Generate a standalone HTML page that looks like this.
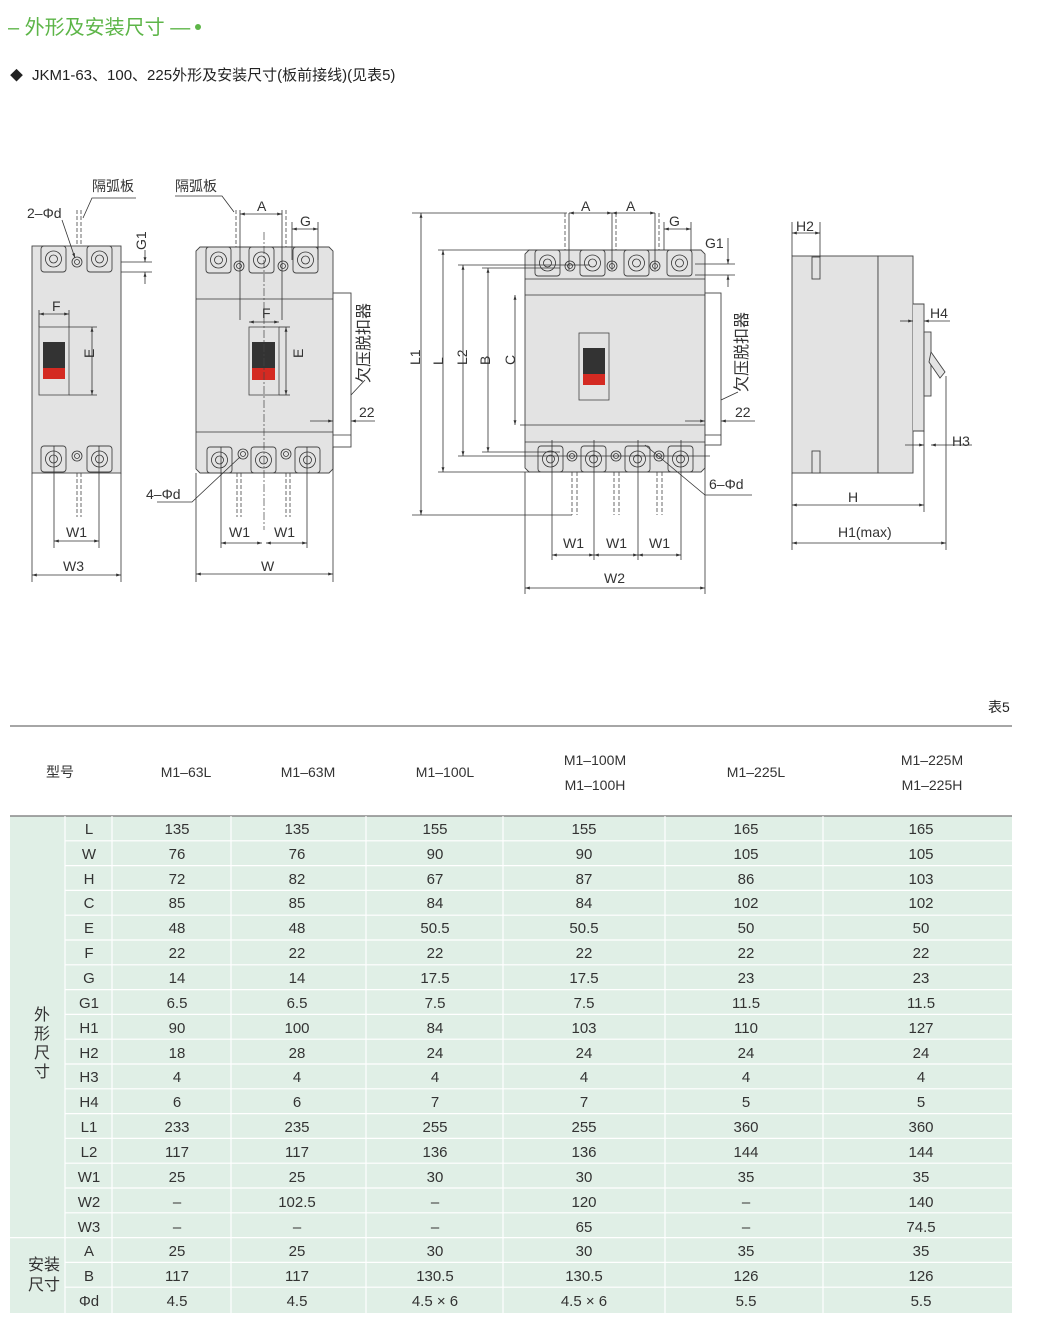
<!DOCTYPE html>
<html><head><meta charset="utf-8"><style>
html,body{margin:0;padding:0;background:#fff;}
svg{display:block;font-family:"Liberation Sans","Noto Sans CJK SC",sans-serif;}
.d{stroke:#333;stroke-width:.8;fill:none}
.b{fill:#e3e3e3;stroke:#444;stroke-width:.9}
.t{fill:#e3e3e3;stroke:#444;stroke-width:.9}
.dash{stroke:#444;stroke-width:.8;stroke-dasharray:4 2;fill:none}
.lab{font-size:14px;fill:#333}
.tb{font-size:15px;fill:#333;text-anchor:middle}
.th{font-size:14px;fill:#333;text-anchor:middle}
</style></head><body>
<svg width="1039" height="1329" viewBox="0 0 1039 1329">
<defs>
<marker id="a" viewBox="0 0 10 10" refX="10" refY="5" markerWidth="6" markerHeight="6" orient="auto-start-reverse"><path d="M0,2 L10,5 L0,8z" fill="#333"/></marker>
<g id="term"><rect x="0" y="0" width="25" height="26" rx="3" class="t"/><circle cx="12.5" cy="13" r="8" class="d"/><circle cx="12.5" cy="13" r="4" class="d"/></g>
<g id="hole"><circle r="5" class="d"/><circle r="2.5" class="d"/></g>
</defs>

<!-- Header -->
<text x="8" y="34" font-size="20" fill="#5db548">– 外形及安装尺寸 —</text>
<circle cx="198" cy="27" r="3" fill="#5db548"/>
<text x="10" y="80" font-size="13" fill="#222">◆</text>
<text x="32" y="80" font-size="15" fill="#222">JKM1-63、100、225外形及安装尺寸(板前接线)(见表5)</text>

<!-- Drawing 1 -->
<rect x="32" y="246" width="89" height="227" class="b"/>
<use href="#term" x="41" y="246"/><use href="#term" x="87" y="246"/>
<use href="#hole" x="77" y="262"/>
<use href="#term" x="41" y="446"/><use href="#term" x="87" y="446"/>
<use href="#hole" x="77" y="456"/>
<rect x="39" y="327" width="30" height="68" fill="#e3e3e3" stroke="#444" stroke-width=".8"/>
<rect x="43" y="342" width="22" height="26" fill="#333"/><rect x="43" y="368" width="22" height="11" fill="#d42a22"/>
<line x1="69" y1="327" x2="97" y2="327" class="d"/><line x1="69" y1="395" x2="97" y2="395" class="d"/>
<line x1="92" y1="327" x2="92" y2="395" class="d" marker-start="url(#a)" marker-end="url(#a)"/>
<text x="90" y="362" class="lab" transform="rotate(-90 90 358)">E</text>
<line x1="39" y1="310" x2="39" y2="327" class="d"/><line x1="69" y1="310" x2="69" y2="327" class="d"/>
<line x1="39" y1="314" x2="69" y2="314" class="d" marker-start="url(#a)" marker-end="url(#a)"/>
<text x="52" y="311" class="lab">F</text>
<line x1="77" y1="210" x2="77" y2="246" class="dash"/><line x1="81" y1="210" x2="81" y2="246" class="dash"/>
<line x1="77" y1="473" x2="77" y2="517" class="dash"/><line x1="81" y1="473" x2="81" y2="517" class="dash"/>
<line x1="54" y1="446" x2="54" y2="548" class="d"/><line x1="99" y1="446" x2="99" y2="548" class="d"/>
<line x1="54" y1="541" x2="99" y2="541" class="d" marker-start="url(#a)" marker-end="url(#a)"/>
<text x="66" y="537" class="lab">W1</text>
<line x1="32" y1="473" x2="32" y2="582" class="d"/><line x1="121" y1="473" x2="121" y2="582" class="d"/>
<line x1="32" y1="575" x2="121" y2="575" class="d" marker-start="url(#a)" marker-end="url(#a)"/>
<text x="63" y="571" class="lab">W3</text>
<text x="92" y="191" class="lab">隔弧板</text>
<polyline points="136,198 92,198 83,218" class="d"/>
<text x="27" y="218" class="lab">2–Φd</text>
<line x1="62" y1="220" x2="75" y2="258" class="d" marker-end="url(#a)"/>
<line x1="121" y1="262" x2="152" y2="262" class="d"/><line x1="121" y1="272" x2="152" y2="272" class="d"/>
<line x1="145" y1="250" x2="145" y2="262" class="d" marker-end="url(#a)"/><line x1="145" y1="284" x2="145" y2="272" class="d" marker-end="url(#a)"/>
<text x="141" y="255" class="lab" transform="rotate(-90 141 250)">G1</text>

<!-- Drawing 2 -->
<path d="M200,247 H329 L333,251 V469 L329,473 H200 L196,469 V251z" class="b"/>
<line x1="196" y1="299" x2="333" y2="299" class="d"/><line x1="196" y1="432" x2="333" y2="432" class="d"/>
<use href="#term" x="206" y="247"/><use href="#term" x="249" y="247"/><use href="#term" x="293" y="247"/>
<use href="#hole" x="239" y="266"/><use href="#hole" x="283" y="266"/>
<use href="#term" x="207" y="447"/><use href="#term" x="251" y="447"/><use href="#term" x="295" y="447"/>
<use href="#hole" x="243" y="454"/><use href="#hole" x="286" y="454"/>
<rect x="249" y="327" width="30" height="68" fill="#e3e3e3" stroke="#444" stroke-width=".8"/>
<rect x="252" y="342" width="23" height="26" fill="#333"/><rect x="252" y="368" width="23" height="12" fill="#d42a22"/>
<line x1="264" y1="232" x2="264" y2="530" stroke="#444" stroke-width=".7" stroke-dasharray="8 2 2 2"/>
<line x1="249" y1="322" x2="279" y2="322" class="d" marker-start="url(#a)" marker-end="url(#a)"/>
<text x="262" y="318" class="lab">F</text>
<line x1="279" y1="327" x2="290" y2="327" class="d"/><line x1="279" y1="395" x2="290" y2="395" class="d"/>
<line x1="286" y1="327" x2="286" y2="395" class="d" marker-start="url(#a)" marker-end="url(#a)"/>
<text x="299" y="362" class="lab" transform="rotate(-90 299 358)">E</text>
<rect x="333" y="293" width="18" height="154" fill="#fff" stroke="#444" stroke-width=".9"/>
<line x1="333" y1="435" x2="351" y2="435" class="d"/>
<text x="369" y="383" font-size="16" fill="#333" transform="rotate(-90 369 383)">欠压脱扣器</text>
<line x1="351" y1="395" x2="365" y2="380" class="d"/>
<line x1="310" y1="421" x2="333" y2="421" class="d" marker-end="url(#a)"/><line x1="375" y1="421" x2="351" y2="421" class="d" marker-end="url(#a)"/>
<text x="359" y="417" class="lab">22</text>
<line x1="236" y1="210" x2="236" y2="247" class="dash"/><line x1="240" y1="210" x2="240" y2="320" class="d"/>
<line x1="282" y1="210" x2="282" y2="320" class="d"/><line x1="286" y1="210" x2="286" y2="247" class="dash"/>
<line x1="240" y1="214" x2="282" y2="214" class="d" marker-start="url(#a)" marker-end="url(#a)"/>
<text x="257" y="211" class="lab">A</text>
<line x1="292" y1="222" x2="292" y2="260" class="d"/><line x1="318" y1="222" x2="318" y2="260" class="d"/>
<line x1="292" y1="229" x2="318" y2="229" class="d" marker-start="url(#a)" marker-end="url(#a)"/>
<text x="300" y="226" class="lab">G</text>
<text x="175" y="191" class="lab">隔弧板</text>
<polyline points="175,196 222,196 234,212" class="d"/>
<text x="146" y="499" class="lab">4–Φd</text>
<polyline points="157,502 192,502 240,457" class="d"/>
<line x1="237" y1="473" x2="237" y2="517" class="dash"/><line x1="241" y1="473" x2="241" y2="517" class="dash"/>
<line x1="286" y1="473" x2="286" y2="517" class="dash"/><line x1="290" y1="473" x2="290" y2="517" class="dash"/>
<line x1="221" y1="447" x2="221" y2="548" class="d"/><line x1="307" y1="447" x2="307" y2="548" class="d"/>
<line x1="221" y1="543" x2="262" y2="543" class="d" marker-start="url(#a)" marker-end="url(#a)"/>
<line x1="266" y1="543" x2="307" y2="543" class="d" marker-start="url(#a)" marker-end="url(#a)"/>
<text x="229" y="537" class="lab">W1</text><text x="274" y="537" class="lab">W1</text>
<line x1="196" y1="473" x2="196" y2="582" class="d"/><line x1="333" y1="447" x2="333" y2="582" class="d"/>
<line x1="196" y1="574" x2="333" y2="574" class="d" marker-start="url(#a)" marker-end="url(#a)"/>
<text x="261" y="571" class="lab">W</text>

<!-- Drawing 3 -->
<path d="M529,250 H701 L705,254 V468 L701,472 H529 L525,468 V254z" class="b"/>
<line x1="525" y1="279" x2="705" y2="279" class="d"/><line x1="525" y1="442" x2="705" y2="442" class="d"/>
<line x1="525" y1="295" x2="705" y2="295" class="d"/><line x1="520" y1="425" x2="705" y2="425" class="d"/>
<use href="#term" x="535" y="250"/><use href="#term" x="580" y="250"/><use href="#term" x="624" y="250"/><use href="#term" x="667" y="250"/>
<use href="#hole" x="570" y="266"/><use href="#hole" x="612" y="266"/><use href="#hole" x="655" y="266"/>
<use href="#term" x="538" y="446"/><use href="#term" x="581" y="446"/><use href="#term" x="625" y="446"/><use href="#term" x="668" y="446"/>
<use href="#hole" x="572" y="456"/><use href="#hole" x="616" y="456"/><use href="#hole" x="659" y="456"/>
<rect x="579" y="333" width="30" height="67" fill="#e3e3e3" stroke="#444" stroke-width=".8"/>
<rect x="583" y="348" width="22" height="26" fill="#333"/><rect x="583" y="374" width="22" height="11" fill="#d42a22"/>
<rect x="705" y="293" width="16" height="152" fill="#fff" stroke="#444" stroke-width=".9"/>
<line x1="705" y1="435" x2="721" y2="435" class="d"/>
<text x="747" y="392" font-size="16" fill="#333" transform="rotate(-90 747 392)">欠压脱扣器</text>
<line x1="721" y1="400" x2="738" y2="392" class="d"/>
<line x1="685" y1="421" x2="705" y2="421" class="d" marker-end="url(#a)"/><line x1="755" y1="421" x2="721" y2="421" class="d" marker-end="url(#a)"/>
<text x="735" y="417" class="lab">22</text>
<!-- vertical dims -->
<line x1="412" y1="213" x2="567" y2="213" class="d"/><line x1="412" y1="515" x2="572" y2="515" class="d"/>
<line x1="421" y1="213" x2="421" y2="515" class="d" marker-start="url(#a)" marker-end="url(#a)"/>
<text x="415" y="370" class="lab" transform="rotate(-90 415 365)">L1</text>
<line x1="438" y1="250" x2="530" y2="250" class="d"/><line x1="438" y1="472" x2="530" y2="472" class="d"/>
<line x1="443" y1="250" x2="443" y2="472" class="d" marker-start="url(#a)" marker-end="url(#a)"/>
<text x="438" y="370" class="lab" transform="rotate(-90 438 365)">L</text>
<line x1="458" y1="265" x2="590" y2="265" class="d"/><line x1="458" y1="456" x2="710" y2="456" class="d"/>
<line x1="463" y1="265" x2="463" y2="456" class="d" marker-start="url(#a)" marker-end="url(#a)"/>
<text x="460" y="372" class="lab" transform="rotate(-90 460 365)">L2</text>
<line x1="482" y1="268" x2="560" y2="268" class="d"/><line x1="482" y1="452" x2="560" y2="452" class="d"/>
<line x1="488" y1="268" x2="488" y2="452" class="d" marker-start="url(#a)" marker-end="url(#a)"/>
<text x="485" y="370" class="lab" transform="rotate(-90 485 365)">B</text>
<line x1="515" y1="295" x2="515" y2="425" class="d" marker-start="url(#a)" marker-end="url(#a)"/>
<text x="510" y="370" class="lab" transform="rotate(-90 510 365)">C</text>
<!-- top dims -->
<line x1="565" y1="213" x2="565" y2="250" class="dash"/><line x1="569" y1="213" x2="569" y2="270" class="d"/>
<line x1="612" y1="213" x2="612" y2="270" class="d"/><line x1="616" y1="213" x2="616" y2="250" class="dash"/>
<line x1="655" y1="213" x2="655" y2="270" class="d"/><line x1="659" y1="213" x2="659" y2="250" class="dash"/>
<line x1="569" y1="213" x2="612" y2="213" class="d" marker-start="url(#a)" marker-end="url(#a)"/>
<line x1="612" y1="213" x2="655" y2="213" class="d" marker-start="url(#a)" marker-end="url(#a)"/>
<text x="581" y="211" class="lab">A</text><text x="626" y="211" class="lab">A</text>
<line x1="664" y1="222" x2="664" y2="250" class="d"/><line x1="691" y1="222" x2="691" y2="250" class="d"/>
<line x1="664" y1="229" x2="691" y2="229" class="d" marker-start="url(#a)" marker-end="url(#a)"/>
<text x="669" y="226" class="lab">G</text>
<text x="705" y="248" class="lab">G1</text>
<line x1="695" y1="264" x2="735" y2="264" class="d"/><line x1="695" y1="275" x2="735" y2="275" class="d"/>
<line x1="728" y1="238" x2="728" y2="264" class="d" marker-end="url(#a)"/><line x1="728" y1="287" x2="728" y2="275" class="d" marker-end="url(#a)"/>
<!-- bottom -->
<line x1="572" y1="472" x2="572" y2="515" class="dash"/><line x1="577" y1="472" x2="577" y2="515" class="dash"/>
<line x1="614" y1="472" x2="614" y2="515" class="dash"/><line x1="619" y1="472" x2="619" y2="515" class="dash"/>
<line x1="657" y1="472" x2="657" y2="515" class="dash"/><line x1="662" y1="472" x2="662" y2="515" class="dash"/>
<line x1="552" y1="440" x2="552" y2="560" class="d"/><line x1="594" y1="440" x2="594" y2="560" class="d"/><line x1="638" y1="440" x2="638" y2="560" class="d"/><line x1="681" y1="440" x2="681" y2="560" class="d"/>
<line x1="552" y1="555" x2="594" y2="555" class="d" marker-start="url(#a)" marker-end="url(#a)"/>
<line x1="594" y1="555" x2="638" y2="555" class="d" marker-start="url(#a)" marker-end="url(#a)"/>
<line x1="638" y1="555" x2="681" y2="555" class="d" marker-start="url(#a)" marker-end="url(#a)"/>
<text x="563" y="548" class="lab">W1</text><text x="606" y="548" class="lab">W1</text><text x="649" y="548" class="lab">W1</text>
<line x1="525" y1="472" x2="525" y2="594" class="d"/><line x1="705" y1="445" x2="705" y2="594" class="d"/>
<line x1="525" y1="588" x2="705" y2="588" class="d" marker-start="url(#a)" marker-end="url(#a)"/>
<text x="604" y="583" class="lab">W2</text>
<polyline points="645,445 705,495 752,495" class="d"/>
<text x="709" y="489" class="lab">6–Φd</text>

<!-- Drawing 4 side -->
<rect x="792" y="256" width="86" height="217" class="b"/>
<rect x="878" y="256" width="35" height="217" class="b"/>
<path d="M913,304 H924 V431 H913" class="b"/>
<rect x="924" y="332" width="7" height="64" class="b"/>
<path d="M931,352 L945,372 L940,378 L929,362z" class="b"/>
<rect x="812" y="257" width="8" height="22" class="b"/><rect x="812" y="451" width="8" height="22" class="b"/>
<line x1="820" y1="222" x2="820" y2="257" class="d"/><line x1="792" y1="222" x2="792" y2="256" class="d"/>
<line x1="792" y1="233" x2="820" y2="233" class="d" marker-start="url(#a)" marker-end="url(#a)"/>
<text x="796" y="231" class="lab">H2</text>
<line x1="900" y1="321" x2="913" y2="321" class="d" marker-end="url(#a)"/><line x1="950" y1="321" x2="924" y2="321" class="d" marker-end="url(#a)"/>
<text x="930" y="318" class="lab">H4</text>
<line x1="905" y1="445" x2="924" y2="445" class="d" marker-end="url(#a)"/><line x1="972" y1="445" x2="931" y2="445" class="d" marker-end="url(#a)"/>
<text x="952" y="446" class="lab">H3</text>
<line x1="924" y1="431" x2="924" y2="512" class="d"/><line x1="946" y1="376" x2="946" y2="550" class="d"/>
<line x1="792" y1="473" x2="792" y2="550" class="d"/>
<line x1="792" y1="505" x2="924" y2="505" class="d" marker-start="url(#a)" marker-end="url(#a)"/>
<text x="848" y="502" class="lab">H</text>
<line x1="792" y1="543" x2="946" y2="543" class="d" marker-start="url(#a)" marker-end="url(#a)"/>
<text x="838" y="537" class="lab">H1(max)</text>

<!-- Table -->
<text x="988" y="712" font-size="14" fill="#222">表5</text>
<rect x="10" y="816" width="1002" height="497" fill="#e0efe6"/>
<line x1="10" y1="726" x2="1012" y2="726" stroke="#888" stroke-width="1.5"/>
<line x1="10" y1="816" x2="1012" y2="816" stroke="#888" stroke-width="1.5"/>
<g stroke="#fff" stroke-width="1.2">
<line x1="65" y1="840.8" x2="1012" y2="840.8"/><line x1="65" y1="865.6" x2="1012" y2="865.6"/><line x1="65" y1="890.4" x2="1012" y2="890.4"/><line x1="65" y1="915.2" x2="1012" y2="915.2"/><line x1="65" y1="940" x2="1012" y2="940"/><line x1="65" y1="964.8" x2="1012" y2="964.8"/><line x1="65" y1="989.6" x2="1012" y2="989.6"/><line x1="65" y1="1014.4" x2="1012" y2="1014.4"/><line x1="65" y1="1039.2" x2="1012" y2="1039.2"/><line x1="65" y1="1064" x2="1012" y2="1064"/><line x1="65" y1="1088.8" x2="1012" y2="1088.8"/><line x1="65" y1="1113.6" x2="1012" y2="1113.6"/><line x1="65" y1="1138.4" x2="1012" y2="1138.4"/><line x1="65" y1="1163.2" x2="1012" y2="1163.2"/><line x1="65" y1="1188" x2="1012" y2="1188"/><line x1="65" y1="1212.8" x2="1012" y2="1212.8"/><line x1="10" y1="1237.6" x2="1012" y2="1237.6"/><line x1="65" y1="1262.4" x2="1012" y2="1262.4"/><line x1="65" y1="1287.2" x2="1012" y2="1287.2"/>
<line x1="65" y1="816" x2="65" y2="1313"/><line x1="112" y1="816" x2="112" y2="1313"/><line x1="231" y1="816" x2="231" y2="1313"/><line x1="366" y1="816" x2="366" y2="1313"/><line x1="503" y1="816" x2="503" y2="1313"/><line x1="665" y1="816" x2="665" y2="1313"/><line x1="823" y1="816" x2="823" y2="1313"/>
</g>
<text x="60" y="777" class="th">型号</text>
<text x="186" y="777" class="th">M1–63L</text><text x="308" y="777" class="th">M1–63M</text><text x="445" y="777" class="th">M1–100L</text>
<text x="595" y="765" class="th">M1–100M</text><text x="595" y="790" class="th">M1–100H</text>
<text x="756" y="777" class="th">M1–225L</text>
<text x="932" y="765" class="th">M1–225M</text><text x="932" y="790" class="th">M1–225H</text>
<g font-size="16" fill="#333" text-anchor="middle"><text x="42" y="1020">外</text><text x="42" y="1039">形</text><text x="42" y="1058">尺</text><text x="42" y="1077">寸</text>
<text x="44" y="1270">安装</text><text x="44" y="1290">尺寸</text></g>
<g class="tb">
<text x="89" y="834" class="tb">L</text><text x="177" y="834" class="tb">135</text><text x="297" y="834" class="tb">135</text><text x="435" y="834" class="tb">155</text><text x="584" y="834" class="tb">155</text><text x="746" y="834" class="tb">165</text><text x="921" y="834" class="tb">165</text>
<text x="89" y="859" class="tb">W</text><text x="177" y="859" class="tb">76</text><text x="297" y="859" class="tb">76</text><text x="435" y="859" class="tb">90</text><text x="584" y="859" class="tb">90</text><text x="746" y="859" class="tb">105</text><text x="921" y="859" class="tb">105</text>
<text x="89" y="884" class="tb">H</text><text x="177" y="884" class="tb">72</text><text x="297" y="884" class="tb">82</text><text x="435" y="884" class="tb">67</text><text x="584" y="884" class="tb">87</text><text x="746" y="884" class="tb">86</text><text x="921" y="884" class="tb">103</text>
<text x="89" y="908" class="tb">C</text><text x="177" y="908" class="tb">85</text><text x="297" y="908" class="tb">85</text><text x="435" y="908" class="tb">84</text><text x="584" y="908" class="tb">84</text><text x="746" y="908" class="tb">102</text><text x="921" y="908" class="tb">102</text>
<text x="89" y="933" class="tb">E</text><text x="177" y="933" class="tb">48</text><text x="297" y="933" class="tb">48</text><text x="435" y="933" class="tb">50.5</text><text x="584" y="933" class="tb">50.5</text><text x="746" y="933" class="tb">50</text><text x="921" y="933" class="tb">50</text>
<text x="89" y="958" class="tb">F</text><text x="177" y="958" class="tb">22</text><text x="297" y="958" class="tb">22</text><text x="435" y="958" class="tb">22</text><text x="584" y="958" class="tb">22</text><text x="746" y="958" class="tb">22</text><text x="921" y="958" class="tb">22</text>
<text x="89" y="983" class="tb">G</text><text x="177" y="983" class="tb">14</text><text x="297" y="983" class="tb">14</text><text x="435" y="983" class="tb">17.5</text><text x="584" y="983" class="tb">17.5</text><text x="746" y="983" class="tb">23</text><text x="921" y="983" class="tb">23</text>
<text x="89" y="1008" class="tb">G1</text><text x="177" y="1008" class="tb">6.5</text><text x="297" y="1008" class="tb">6.5</text><text x="435" y="1008" class="tb">7.5</text><text x="584" y="1008" class="tb">7.5</text><text x="746" y="1008" class="tb">11.5</text><text x="921" y="1008" class="tb">11.5</text>
<text x="89" y="1033" class="tb">H1</text><text x="177" y="1033" class="tb">90</text><text x="297" y="1033" class="tb">100</text><text x="435" y="1033" class="tb">84</text><text x="584" y="1033" class="tb">103</text><text x="746" y="1033" class="tb">110</text><text x="921" y="1033" class="tb">127</text>
<text x="89" y="1058" class="tb">H2</text><text x="177" y="1058" class="tb">18</text><text x="297" y="1058" class="tb">28</text><text x="435" y="1058" class="tb">24</text><text x="584" y="1058" class="tb">24</text><text x="746" y="1058" class="tb">24</text><text x="921" y="1058" class="tb">24</text>
<text x="89" y="1082" class="tb">H3</text><text x="177" y="1082" class="tb">4</text><text x="297" y="1082" class="tb">4</text><text x="435" y="1082" class="tb">4</text><text x="584" y="1082" class="tb">4</text><text x="746" y="1082" class="tb">4</text><text x="921" y="1082" class="tb">4</text>
<text x="89" y="1107" class="tb">H4</text><text x="177" y="1107" class="tb">6</text><text x="297" y="1107" class="tb">6</text><text x="435" y="1107" class="tb">7</text><text x="584" y="1107" class="tb">7</text><text x="746" y="1107" class="tb">5</text><text x="921" y="1107" class="tb">5</text>
<text x="89" y="1132" class="tb">L1</text><text x="177" y="1132" class="tb">233</text><text x="297" y="1132" class="tb">235</text><text x="435" y="1132" class="tb">255</text><text x="584" y="1132" class="tb">255</text><text x="746" y="1132" class="tb">360</text><text x="921" y="1132" class="tb">360</text>
<text x="89" y="1157" class="tb">L2</text><text x="177" y="1157" class="tb">117</text><text x="297" y="1157" class="tb">117</text><text x="435" y="1157" class="tb">136</text><text x="584" y="1157" class="tb">136</text><text x="746" y="1157" class="tb">144</text><text x="921" y="1157" class="tb">144</text>
<text x="89" y="1182" class="tb">W1</text><text x="177" y="1182" class="tb">25</text><text x="297" y="1182" class="tb">25</text><text x="435" y="1182" class="tb">30</text><text x="584" y="1182" class="tb">30</text><text x="746" y="1182" class="tb">35</text><text x="921" y="1182" class="tb">35</text>
<text x="89" y="1207" class="tb">W2</text><text x="177" y="1207" class="tb">–</text><text x="297" y="1207" class="tb">102.5</text><text x="435" y="1207" class="tb">–</text><text x="584" y="1207" class="tb">120</text><text x="746" y="1207" class="tb">–</text><text x="921" y="1207" class="tb">140</text>
<text x="89" y="1232" class="tb">W3</text><text x="177" y="1232" class="tb">–</text><text x="297" y="1232" class="tb">–</text><text x="435" y="1232" class="tb">–</text><text x="584" y="1232" class="tb">65</text><text x="746" y="1232" class="tb">–</text><text x="921" y="1232" class="tb">74.5</text>
<text x="89" y="1256" class="tb">A</text><text x="177" y="1256" class="tb">25</text><text x="297" y="1256" class="tb">25</text><text x="435" y="1256" class="tb">30</text><text x="584" y="1256" class="tb">30</text><text x="746" y="1256" class="tb">35</text><text x="921" y="1256" class="tb">35</text>
<text x="89" y="1281" class="tb">B</text><text x="177" y="1281" class="tb">117</text><text x="297" y="1281" class="tb">117</text><text x="435" y="1281" class="tb">130.5</text><text x="584" y="1281" class="tb">130.5</text><text x="746" y="1281" class="tb">126</text><text x="921" y="1281" class="tb">126</text>
<text x="89" y="1306" class="tb">Φd</text><text x="177" y="1306" class="tb">4.5</text><text x="297" y="1306" class="tb">4.5</text><text x="435" y="1306" class="tb">4.5 × 6</text><text x="584" y="1306" class="tb">4.5 × 6</text><text x="746" y="1306" class="tb">5.5</text><text x="921" y="1306" class="tb">5.5</text>
</g>
</svg>
</body></html>
